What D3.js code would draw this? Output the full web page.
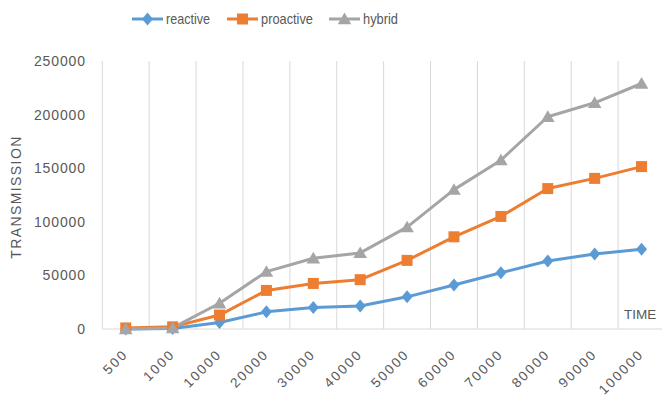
<!DOCTYPE html>
<html><head><meta charset="utf-8">
<script src="https://cdn.jsdelivr.net/npm/d3@7"></script>
<style>body{margin:0;background:#fff}svg{display:block}text{font-family:"Liberation Sans",Arial,sans-serif;fill:#595959}</style>
</head><body><svg id="c" width="662" height="403"></svg>
<script>
const categories = ["500","1000","10000","20000","30000","40000","50000","60000","70000","80000","90000","100000"];
const reactive  = [0, 500, 6000, 16000, 20000, 21500, 30000, 41000, 52500, 63500, 70000, 74500];
const proactive = [1000, 2000, 13000, 36000, 42500, 46000, 64000, 86000, 105000, 131000, 140500, 151500];
const hybrid    = [0, 1000, 24000, 53500, 66000, 71000, 95000, 130000, 157500, 198000, 211000, 229000];
const yTicks = [0, 50000, 100000, 150000, 200000, 250000];
const seriesNames = ["reactive","proactive","hybrid"];
const colors = ["#5B9BD5","#ED7D31","#A5A5A5"];

const svg = d3.select("#c");
const x = d3.scaleBand().domain(categories).range([102.3, 665]);
const y = d3.scaleLinear().domain([0, 250000]).range([329, 61]);

// vertical gridlines at category boundaries
const bounds = [x(categories[0])].concat(categories.map(c => x(c) + x.bandwidth()));
svg.append("g").selectAll("line").data(bounds).join("line")
  .attr("x1", d => d).attr("x2", d => d)
  .attr("y1", y(250000)).attr("y2", y(0)).attr("stroke","#d9d9d9").attr("stroke-width",1);
// x axis line
svg.append("line").attr("x1", 102.3).attr("x2", 662).attr("y1", y(0)).attr("y2", y(0)).attr("stroke","#d9d9d9").attr("stroke-width",1.2);

// y axis labels
const yAxis = d3.axisLeft(y).tickValues(yTicks).tickSize(0).tickPadding(0).tickFormat(d3.format("d"));
const gy = svg.append("g").attr("transform","translate(86,0)").call(yAxis);
gy.select(".domain").remove();
gy.selectAll("text").attr("font-size","14px").style("fill","#595959")
  .style("font-family","Liberation Sans, Arial, sans-serif").style("letter-spacing","0.9px");

// x axis labels
const xAxis = d3.axisBottom(x).tickSize(0).tickPadding(0);
const gx = svg.append("g").call(xAxis);
gx.select(".domain").remove();
gx.selectAll("text")
  .attr("transform", "translate(3,355) rotate(-45)")
  .attr("x",0).attr("y",0).attr("dy","0").attr("text-anchor","end")
  .attr("font-size","13.5px").style("fill","#595959").style("font-family","Liberation Sans, Arial, sans-serif")
  .style("letter-spacing","2px");

// axis titles
svg.append("text").attr("transform","translate(21,197) rotate(-90)").attr("text-anchor","middle")
  .attr("font-size","14px").style("letter-spacing","1.4px").text("TRANSMISSION");
svg.append("text").attr("x",624).attr("y",319).attr("font-size","13.5px").text("TIME");

const data = [reactive, proactive, hybrid];
const cx = c => x(c) + x.bandwidth()/2;
const line = d3.line().x((d,i)=>cx(categories[i])).y(d=>y(d));

const diamondPath = "M0,-6.5L5.5,0L0,6.5L-5.5,0Z";
const squarePath = "M-5.5,-5.5H5.5V5.5H-5.5Z";
const trianglePath = "M0,-6.5L6.8,5.2H-6.8Z";
const paths = [diamondPath, squarePath, trianglePath];

data.forEach((vals, k) => {
  svg.append("path").datum(vals).attr("d", line).attr("fill","none")
    .attr("stroke", colors[k]).attr("stroke-width",3).attr("stroke-linejoin","round");
});
data.forEach((vals, k) => {
  svg.append("g").selectAll("path").data(vals).join("path")
    .attr("d", paths[k]).attr("transform",(d,i)=>`translate(${cx(categories[i])},${y(d)})`)
    .attr("fill", colors[k]);
});

// legend
const legendX = [132, 227, 329];
const legendW = [44, 52, 35];
seriesNames.forEach((name, k) => {
  const g = svg.append("g").attr("transform",`translate(${legendX[k]},19)`);
  g.append("line").attr("x1",0).attr("x2",31).attr("stroke",colors[k]).attr("stroke-width",3);
  g.append("path").attr("d", paths[k]).attr("transform","translate(15.5,0)").attr("fill",colors[k]);
  g.append("text").attr("x",34).attr("y",5).attr("font-size","14.5px").text(name)
    .attr("textLength", legendW[k]).attr("lengthAdjust","spacingAndGlyphs");
});
</script></body></html>
